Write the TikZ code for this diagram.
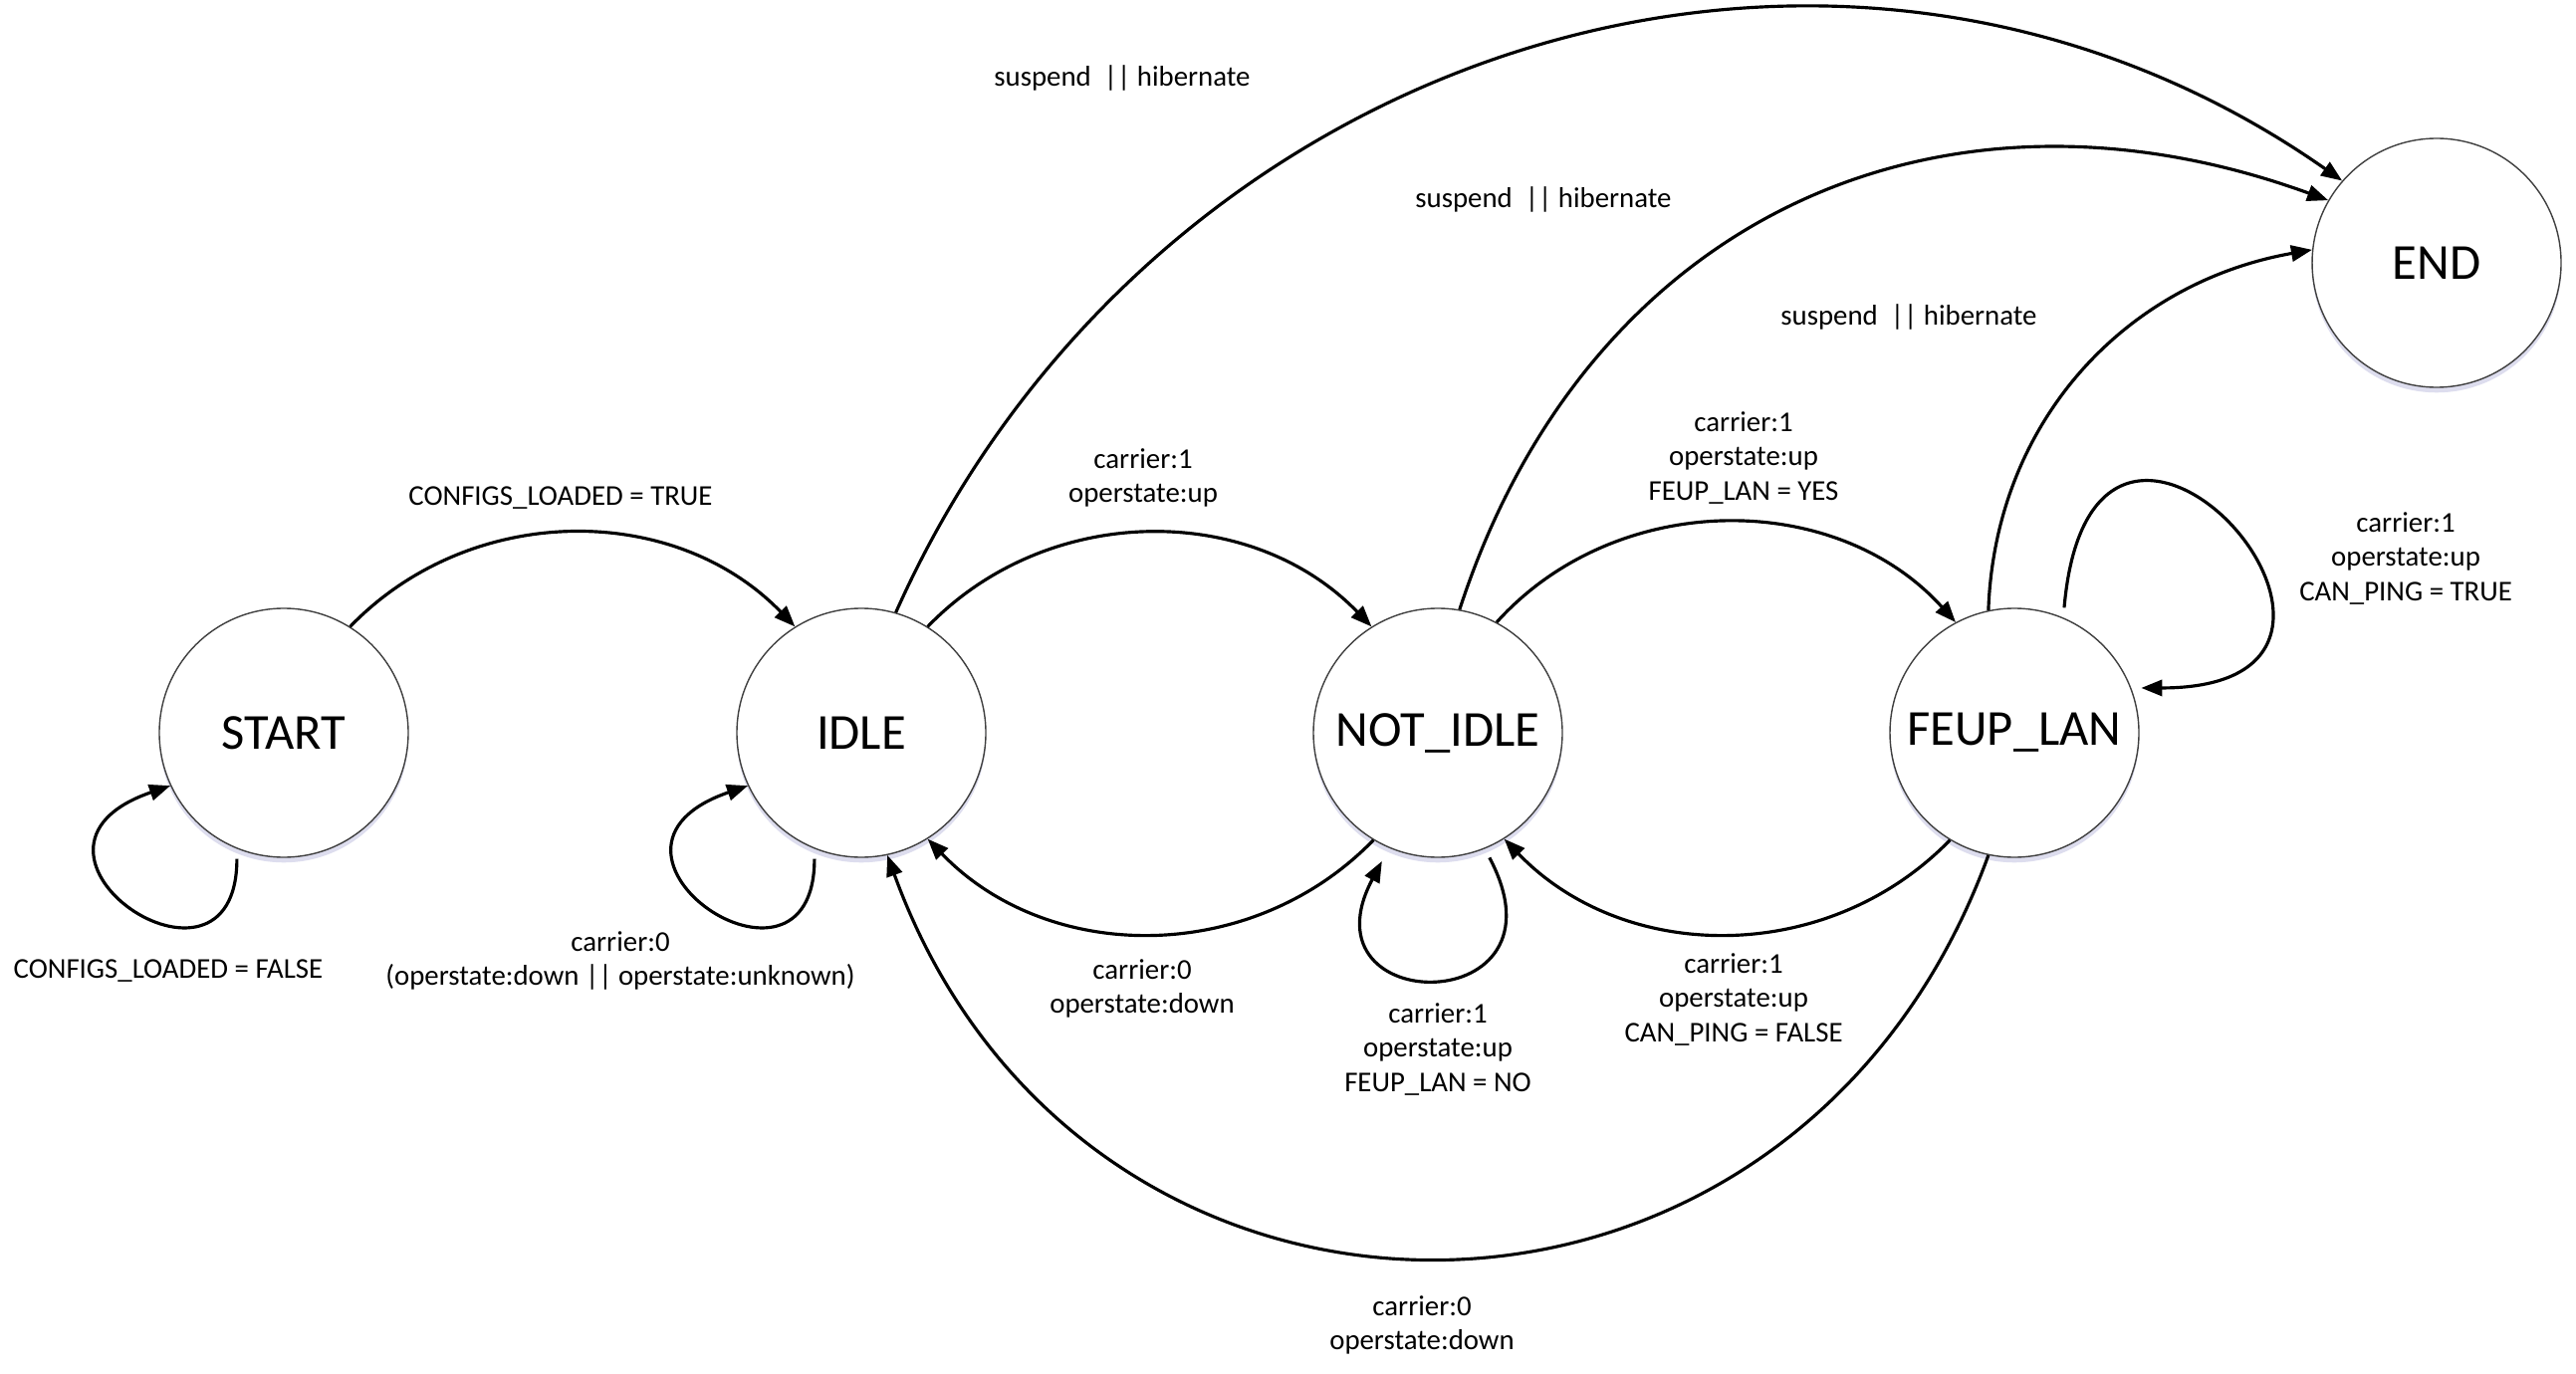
\documentclass[tikz,border=0pt]{standalone}
\usepackage{fontspec}
\setmainfont{Carlito}
\usetikzlibrary{arrows.meta,shadows}

\begin{document}
\begin{tikzpicture}[
    state/.style={circle, draw=black!75, line width=0.4pt, fill=white, minimum size=2.5cm, inner sep=0pt,
        font=\fontsize{14.4}{17}\selectfont,
        drop shadow={shadow xshift=0pt, shadow yshift=-1.5pt, fill=blue!35!gray, opacity=0.2}},
    trans/.style={-{Triangle[length=6pt,width=4.6pt]}, line width=0.9pt},
    selfloop/.style={trans, shorten <=1mm},
    cond/.style={font=\fontsize{8.2}{9.8}\selectfont, align=center, inner sep=0pt}
]
    \useasboundingbox (0,0) rectangle (25.87,13.79);

    % === Stati ===
    \node[state] (start)   at (2.85,6.43)   {START};
    \node[state] (idle)    at (8.65,6.43)   {IDLE};
    \node[state] (notidle) at (14.44,6.43)  {NOT\_IDLE};
    \node[state] (feup)    at (20.23,6.43)  {FEUP\_LAN};
    \node[state] (end)     at (24.47,11.15) {END};

    % === Transizioni tra stati vicini ===
    \draw[trans] (start.58)    to[bend left=46] (idle.122);
    \draw[trans] (idle.58)     to[bend left=46] (notidle.122);
    \draw[trans] (notidle.-121) to[bend left=46] (idle.-58);
    \draw[trans] (notidle.62)  to[bend left=48] (feup.118);
    \draw[trans] (feup.-121)   to[bend left=46] (notidle.-58);
    \draw[trans] (feup.-102)   to[out=-110, in=-70, looseness=1.33] (idle.-78);

    % === Verso END ===
    \draw[trans] (idle.74)    to[out=66, in=145, looseness=1.05] (end.139);
    \draw[trans] (notidle.80) to[out=72, in=160, looseness=1.1] (end.150);
    \draw[trans] (feup.102)   to[out=88, in=190, looseness=1] (end.174);

    % === Anelli ===
    \draw[selfloop] (start.248) to[out=-90, in=199, out distance=1.75cm, in distance=2cm] (start.205);
    \draw[selfloop] (idle.248)  to[out=-90, in=199, out distance=1.75cm, in distance=2cm] (idle.205);
    \draw[selfloop, shorten >=1.5mm] (notidle.292) to[out=-62, in=-118, distance=1.95cm] (notidle.247);
    \draw[selfloop, shorten >=1mm] (feup.67) to[out=85, in=0, out distance=3.4cm, in distance=3.2cm] (feup.21);

    % === Condizioni ===
    \node[cond] (cfgtrue)  at (5.63,8.79)  {CONFIGS\_LOADED = TRUE};
    \node[cond] (cfgfalse) at (1.69,4.04)  {CONFIGS\_LOADED = FALSE};
    \node[cond] (idleloop) at (6.23,4.14)  {carrier:0\\(operstate:down || operstate:unknown)};
    \node[cond] (up)       at (11.48,8.99) {carrier:1\\operstate:up};
    \node[cond] (down)     at (11.47,3.86) {carrier:0\\operstate:down};
    \node[cond] (lanyes)   at (17.51,9.19) {carrier:1\\operstate:up\\FEUP\_LAN = YES};
    \node[cond] (lanno)    at (14.44,3.25) {carrier:1\\operstate:up\\FEUP\_LAN = NO};
    \node[cond] (pingno)   at (17.41,3.75) {carrier:1\\operstate:up\\CAN\_PING = FALSE};
    \node[cond] (pingyes)  at (24.16,8.18) {carrier:1\\operstate:up\\CAN\_PING = TRUE};
    \node[cond] (downbig)  at (14.28,0.48) {carrier:0\\operstate:down};
    \node[cond] (susp1)    at (11.27,13.01) {suspend\ \ || hibernate};
    \node[cond] (susp2)    at (15.50,11.79) {suspend\ \ || hibernate};
    \node[cond] (susp3)    at (19.17,10.61) {suspend\ \ || hibernate};
\end{tikzpicture}
\end{document}
